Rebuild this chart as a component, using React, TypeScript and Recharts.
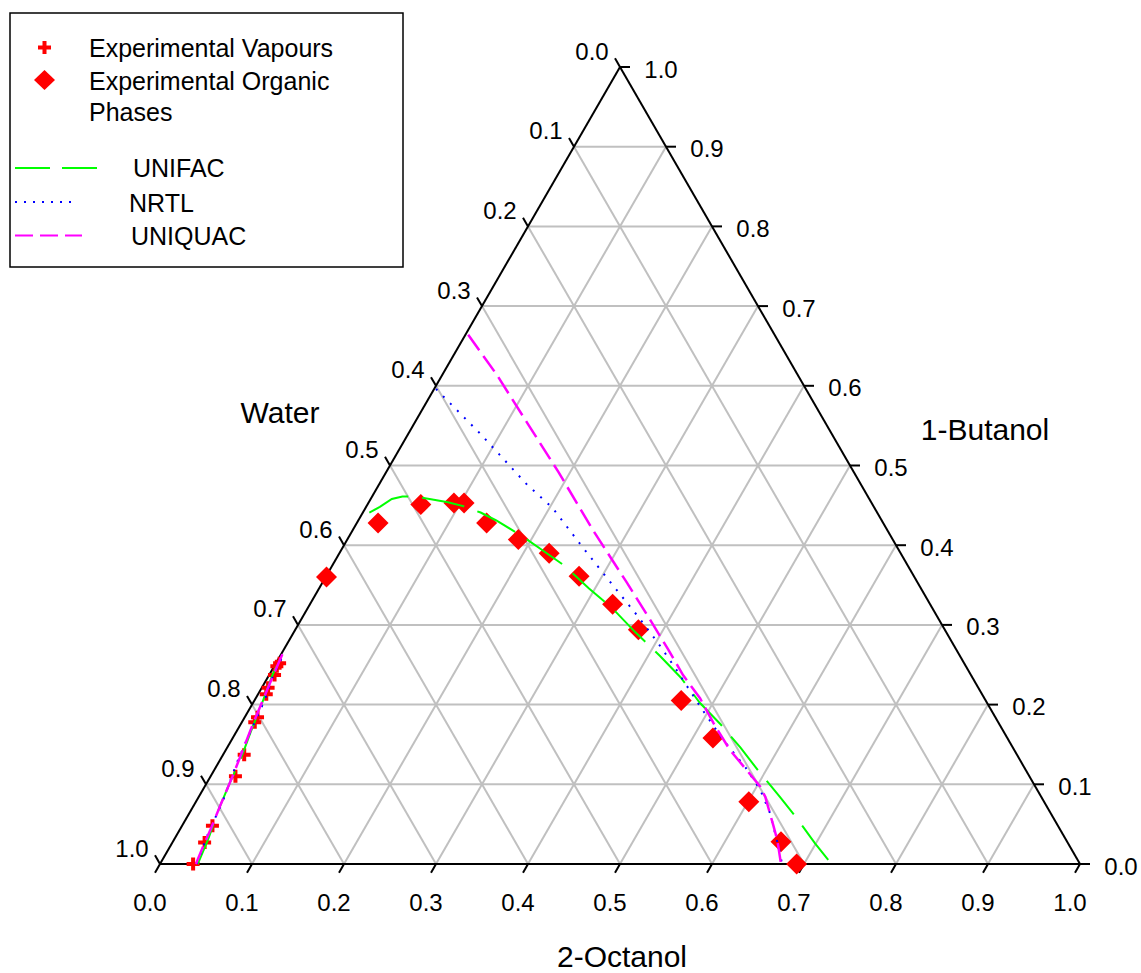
import { ScatterChart, Scatter, XAxis, YAxis, ReferenceLine } from 'recharts'

// compositions are [2-octanol, 1-butanol] mole fractions, water = 1 - both
const vapours: [number, number][] = [
  [0.036, 0.0], [0.035, 0.027], [0.033, 0.048], [0.027, 0.11], [0.023, 0.137],
  [0.014, 0.184], [0.014, 0.178], [0.009, 0.213], [0.007, 0.221], [0.006, 0.237],
  [0.003, 0.248], [0.004, 0.252],
]

const organicPhases: [number, number][] = [
  [0.692, 0.0], [0.661, 0.028], [0.601, 0.078], [0.522, 0.158], [0.464, 0.205],
  [0.373, 0.294], [0.329, 0.326], [0.275, 0.361], [0.228, 0.39], [0.186, 0.407],
  [0.141, 0.428], [0.104, 0.453], [0.093, 0.453], [0.058, 0.451], [0.023, 0.428],
  [0.001, 0.36],
]

const unifacVapour: [number, number][] = [
  [0.041, 0.0], [0.037, 0.03], [0.029, 0.072], [0.025, 0.102], [0.022, 0.131],
  [0.016, 0.164], [0.01, 0.202], [0.004, 0.235], [0.001, 0.265],
]

const unifacOrganic: [number, number][] = [
  [0.007, 0.441], [0.015, 0.448], [0.023, 0.458], [0.033, 0.461], [0.047, 0.461],
  [0.064, 0.458], [0.086, 0.454], [0.105, 0.449], [0.128, 0.441], [0.15, 0.431],
  [0.185, 0.413], [0.22, 0.393], [0.253, 0.374], [0.293, 0.346], [0.331, 0.321],
  [0.371, 0.291], [0.413, 0.261], [0.449, 0.234], [0.486, 0.202], [0.522, 0.175],
  [0.558, 0.146], [0.593, 0.116], [0.632, 0.084], [0.664, 0.057], [0.699, 0.026],
  [0.73, 0.0],
]

const nrtlVapour: [number, number][] = [
  [0.04, 0.0], [0.033, 0.039], [0.029, 0.078], [0.02, 0.127], [0.016, 0.159],
  [0.011, 0.206], [0.005, 0.235], [0.003, 0.26],
]

const nrtlOrganic: [number, number][] = [
  [0.002, 0.596], [0.078, 0.54], [0.161, 0.476], [0.203, 0.447], [0.26, 0.398],
  [0.317, 0.35], [0.365, 0.31], [0.403, 0.277], [0.437, 0.246], [0.489, 0.197],
  [0.534, 0.156], [0.576, 0.121], [0.606, 0.093], [0.631, 0.064], [0.649, 0.039],
  [0.667, 0.014], [0.676, 0.0],
]

const uniquacVapour: [number, number][] = [
  [0.039, 0.0], [0.036, 0.021], [0.033, 0.046], [0.029, 0.072], [0.024, 0.109],
  [0.02, 0.134], [0.013, 0.177], [0.009, 0.206], [0.005, 0.235], [0.001, 0.266],
]

const uniquacOrganic: [number, number][] = [
  [0.003, 0.664], [0.059, 0.614], [0.125, 0.551], [0.187, 0.492], [0.261, 0.419],
  [0.331, 0.353], [0.38, 0.306], [0.418, 0.269], [0.45, 0.237], [0.483, 0.208],
  [0.513, 0.177], [0.548, 0.143], [0.581, 0.116], [0.604, 0.097], [0.616, 0.084],
  [0.642, 0.049], [0.656, 0.03], [0.675, 0.0],
]

const gridSteps = [0.1, 0.2, 0.3, 0.4, 0.5, 0.6, 0.7, 0.8, 0.9]
const tickSteps = [0, 0.1, 0.2, 0.3, 0.4, 0.5, 0.6, 0.7, 0.8, 0.9, 1.0]

const FONT = '"Liberation Sans", Arial, sans-serif'
const PLOT_W = 920
const PLOT_H = 797
const TICK = 10

// ternary -> chart coords (x along octanol axis, y = butanol height)
const toXY = ([o, b]: [number, number]) => ({ x: o + b / 2, y: b })

const PlusMark = (props: any) => {
  const { cx, cy } = props
  return <path d={`M${cx - 6.5},${cy}h13M${cx},${cy - 6.5}v13`} stroke="#ff0000" strokeWidth={4} />
}

const DiamondMark = (props: any) => {
  const { cx, cy } = props
  const r = 10.5
  return <polygon points={`${cx},${cy - r} ${cx + r},${cy} ${cx},${cy + r} ${cx - r},${cy}`} fill="#ff0000" />
}

const NoMark = () => <g />

const TickText = (props: any) => {
  const { cx, cy, payload } = props
  return (
    <text x={cx + payload.dx} y={cy + payload.dy} textAnchor="middle" dominantBaseline="central"
      fontSize={24} fontFamily={FONT} fill="#000">
      {payload.label}
    </text>
  )
}

export default function App() {
  const bottomLabels = tickSteps.map((t) => ({ x: t, y: 0, label: t.toFixed(1), dx: -10, dy: 38 }))
  const rightLabels = tickSteps.map((t) => ({ x: 1 - t / 2, y: t, label: t.toFixed(1), dx: 41, dy: 2 }))
  const leftLabels = tickSteps.map((w) => ({ x: (1 - w) / 2, y: 1 - w, label: w.toFixed(1), dx: -28, dy: -16 }))

  const ux = TICK / PLOT_W
  const uy = TICK / PLOT_H

  const edges = [
    [{ x: 0, y: 0 }, { x: 1, y: 0 }],
    [{ x: 0, y: 0 }, { x: 0.5, y: 1 }],
    [{ x: 1, y: 0 }, { x: 0.5, y: 1 }],
  ]

  return (
    <div style={{ position: 'absolute', left: 0, top: 0, width: 1141, height: 973, background: '#fff' }}>
      <ScatterChart width={1141} height={973} margin={{ top: 67, right: 61, bottom: 109, left: 160 }}>
        <XAxis type="number" dataKey="x" domain={[0, 1]} hide />
        <YAxis type="number" dataKey="y" domain={[0, 1]} hide />

        {gridSteps.map((t) => (
          <ReferenceLine key={`b${t}`} segment={[{ x: t / 2, y: t }, { x: 1 - t / 2, y: t }]}
            stroke="#c0c0c0" strokeWidth={2} ifOverflow="visible" />
        ))}
        {gridSteps.map((t) => (
          <ReferenceLine key={`o${t}`} segment={[{ x: t, y: 0 }, { x: t + (1 - t) / 2, y: 1 - t }]}
            stroke="#c0c0c0" strokeWidth={2} ifOverflow="visible" />
        ))}
        {gridSteps.map((t) => (
          <ReferenceLine key={`w${t}`} segment={[{ x: 1 - t, y: 0 }, { x: (1 - t) / 2, y: 1 - t }]}
            stroke="#c0c0c0" strokeWidth={2} ifOverflow="visible" />
        ))}
        {edges.map((seg, i) => (
          <ReferenceLine key={`e${i}`} segment={seg} stroke="#000" strokeWidth={2} ifOverflow="visible" />
        ))}
        {tickSteps.map((t) => (
          <ReferenceLine key={`tb${t}`} segment={[{ x: t, y: 0 }, { x: t - 0.5 * ux, y: -0.866 * uy }]}
            stroke="#000" strokeWidth={2} ifOverflow="visible" />
        ))}
        {tickSteps.map((t) => (
          <ReferenceLine key={`tr${t}`} segment={[{ x: 1 - t / 2, y: t }, { x: 1 - t / 2 + ux, y: t }]}
            stroke="#000" strokeWidth={2} ifOverflow="visible" />
        ))}
        {tickSteps.map((w) => (
          <ReferenceLine key={`tl${w}`} segment={[{ x: (1 - w) / 2, y: 1 - w }, { x: (1 - w) / 2 - 0.5 * ux, y: 1 - w + 0.866 * uy }]}
            stroke="#000" strokeWidth={2} ifOverflow="visible" />
        ))}

        <Scatter data={bottomLabels} shape={TickText} isAnimationActive={false} />
        <Scatter data={rightLabels} shape={TickText} isAnimationActive={false} />
        <Scatter data={leftLabels} shape={TickText} isAnimationActive={false} />

        <Scatter name="Experimental Organic Phases" data={organicPhases.map(toXY)} shape={DiamondMark} isAnimationActive={false} />
        <Scatter name="Experimental Vapours" data={vapours.map(toXY)} shape={PlusMark} isAnimationActive={false} />

        <Scatter data={unifacVapour.map(toXY)} shape={NoMark} isAnimationActive={false}
          line={{ stroke: '#00ff00', strokeWidth: 2, strokeDasharray: '43 14' }} />
        <Scatter data={unifacOrganic.map(toXY)} shape={NoMark} isAnimationActive={false}
          line={{ stroke: '#00ff00', strokeWidth: 2, strokeDasharray: '43 14' }} />
        <Scatter data={nrtlVapour.map(toXY)} shape={NoMark} isAnimationActive={false}
          line={{ stroke: '#0000ff', strokeWidth: 2, strokeDasharray: '2 8' }} />
        <Scatter data={nrtlOrganic.map(toXY)} shape={NoMark} isAnimationActive={false}
          line={{ stroke: '#0000ff', strokeWidth: 2, strokeDasharray: '2 8' }} />
        <Scatter data={uniquacVapour.map(toXY)} shape={NoMark} isAnimationActive={false}
          line={{ stroke: '#ff00ff', strokeWidth: 2.5, strokeDasharray: '19 7' }} />
        <Scatter data={uniquacOrganic.map(toXY)} shape={NoMark} isAnimationActive={false}
          line={{ stroke: '#ff00ff', strokeWidth: 2.5, strokeDasharray: '19 7' }} />
      </ScatterChart>

      <svg width={1141} height={973} style={{ position: 'absolute', left: 0, top: 0, pointerEvents: 'none' }}
        fontFamily={FONT} fill="#000">
        {/* axis titles */}
        <text x={280} y={412} fontSize={30} textAnchor="middle" dominantBaseline="central">Water</text>
        <text x={985} y={429} fontSize={30} textAnchor="middle" dominantBaseline="central">1-Butanol</text>
        <text x={622} y={956} fontSize={30} textAnchor="middle" dominantBaseline="central">2-Octanol</text>

        {/* legend */}
        <rect x={10} y={13} width={393} height={254} fill="none" stroke="#000" strokeWidth={1.5} />
        <path d="M38,47.5h13M44.5,41v13" stroke="#ff0000" strokeWidth={4} />
        <polygon points="44.5,70 55,80 44.5,90 34,80" fill="#ff0000" />
        <text x={89} y={48} fontSize={25} dominantBaseline="central">Experimental Vapours</text>
        <text x={89} y={80.5} fontSize={25} dominantBaseline="central">Experimental Organic</text>
        <text x={89} y={111.5} fontSize={25} dominantBaseline="central">Phases</text>
        <line x1={15} y1={168} x2={97} y2={168} stroke="#00ff00" strokeWidth={2} strokeDasharray="35 12" />
        <line x1={15} y1={202} x2={73} y2={202} stroke="#0000ff" strokeWidth={2} strokeDasharray="2 7" />
        <line x1={15} y1={235.5} x2={82} y2={235.5} stroke="#ff00ff" strokeWidth={2} strokeDasharray="18 7" />
        <text x={133} y={168} fontSize={25} dominantBaseline="central">UNIFAC</text>
        <text x={129} y={203} fontSize={25} dominantBaseline="central">NRTL</text>
        <text x={131} y={235.5} fontSize={25} dominantBaseline="central">UNIQUAC</text>
      </svg>
    </div>
  )
}
